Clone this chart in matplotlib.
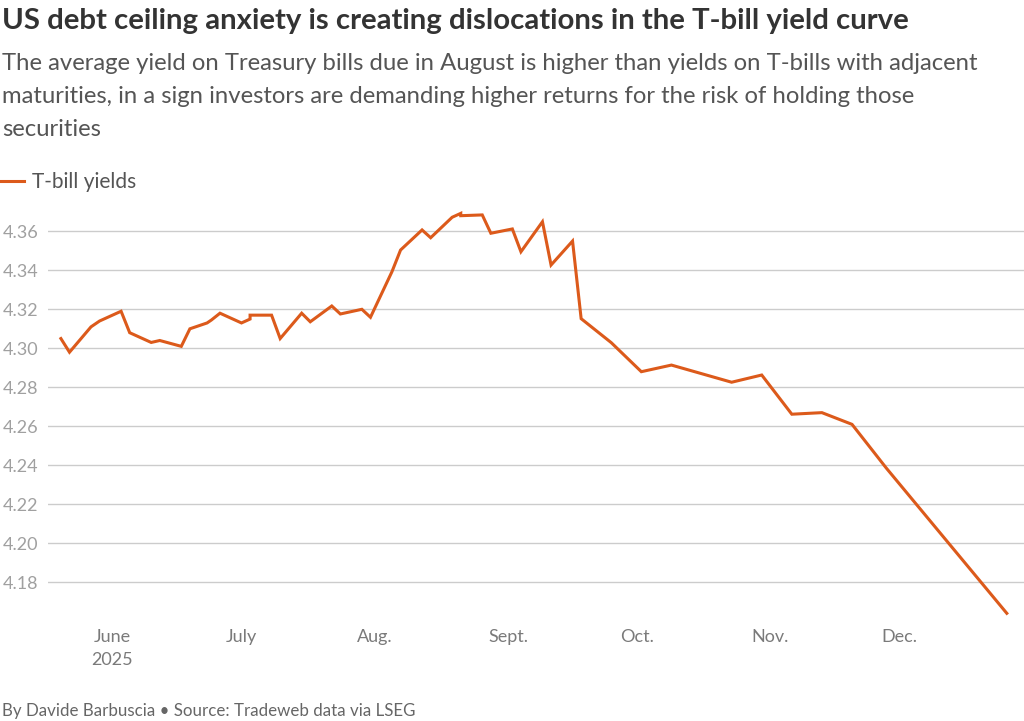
import matplotlib
matplotlib.use('Agg')
import matplotlib.pyplot as plt
import pandas as pd

# Данные (дата погашения T-bill, доходность)
dates = ['2025-05-20', '2025-05-22', '2025-05-27', '2025-05-29', '2025-06-03',
         '2025-06-05', '2025-06-10', '2025-06-12', '2025-06-17', '2025-06-19',
         '2025-06-23', '2025-06-24', '2025-06-26', '2025-07-01', '2025-07-03',
         '2025-07-03', '2025-07-08', '2025-07-10', '2025-07-15', '2025-07-17',
         '2025-07-22', '2025-07-24', '2025-07-29', '2025-07-31', '2025-08-05',
         '2025-08-07', '2025-08-12', '2025-08-14', '2025-08-19', '2025-08-21',
         '2025-08-21', '2025-08-26', '2025-08-28', '2025-09-02', '2025-09-04',
         '2025-09-09', '2025-09-11', '2025-09-16', '2025-09-18', '2025-09-25',
         '2025-10-02', '2025-10-09', '2025-10-23', '2025-10-30', '2025-11-06',
         '2025-11-13', '2025-11-20', '2025-11-28', '2025-12-26']
yields = [4.305, 4.298, 4.311, 4.314, 4.319,
          4.308, 4.303, 4.304, 4.301, 4.310,
          4.313, 4.3145, 4.318, 4.313, 4.315,
          4.317, 4.317, 4.305, 4.318, 4.3136,
          4.3217, 4.3176, 4.320, 4.3159, 4.3393,
          4.3504, 4.3607, 4.3567, 4.3672, 4.3692,
          4.368, 4.3684, 4.359, 4.3612, 4.3495,
          4.3649, 4.3427, 4.355, 4.3152, 4.3029,
          4.288, 4.2914, 4.2826, 4.2863, 4.2662,
          4.267, 4.261, 4.2385, 4.1641]
y_ticks = [4.18, 4.20, 4.22, 4.24, 4.26, 4.28, 4.30, 4.32, 4.34, 4.36]
x_ticks = ['2025-06-01', '2025-07-01', '2025-08-01', '2025-09-01',
           '2025-10-01', '2025-11-01', '2025-12-01']
x_labels = ['June\n2025', 'July', 'Aug.', 'Sept.', 'Oct.', 'Nov.', 'Dec.']

orange = '#DC5A1B'
font = 'Lato'

fig = plt.figure(figsize=(10.24, 7.21), dpi=100)
ax = fig.add_axes([48 / 1024, 1 - 617.4 / 721, 1 - 48 / 1024, (617.4 - 207.9) / 721])

x = pd.to_datetime(dates)
ax.plot(x, yields, color=orange, lw=2.2, label='T-bill yields', solid_joinstyle='miter')

ax.set_ylim(4.162, 4.372)
ax.set_xlim(pd.Timestamp('2025-05-17'), pd.Timestamp('2025-12-30'))
ax.set_yticks(y_ticks)
ax.set_yticklabels([f'{v:.2f}' for v in y_ticks])
ax.set_xticks(pd.to_datetime(x_ticks))
ax.set_xticklabels(x_labels)
ax.grid(axis='y', color='#cccccc', lw=1)
ax.set_axisbelow(True)
for s in ax.spines.values():
    s.set_visible(False)
ax.tick_params(axis='y', length=0, pad=7, labelsize=13, labelcolor='#a0a0a0')
ax.tick_params(axis='x', length=0, pad=8, labelsize=13, labelcolor='#7a7a7a')
for lbl in ax.get_xticklabels() + ax.get_yticklabels():
    lbl.set_family(font)
    lbl.set_linespacing(1.55)

# Заголовки
fig.text(0.002, 1 - 21 / 721, 'US debt ceiling anxiety is creating dislocations in the T-bill yield curve',
         fontsize=21.2, fontweight='bold', color='#333333', family=font, va='center')
subtitle = ('The average yield on Treasury bills due in August is higher than yields on T-bills with adjacent\n'
            'maturities, in a sign investors are demanding higher returns for the risk of holding those\n'
            'securities')
fig.text(0.002, 1 - 53 / 721, subtitle, fontsize=17.2, color='#555555',
         family=font, va='top', linespacing=1.7)

leg = ax.legend(loc='center left', bbox_to_anchor=(0, 1 - 182 / 721), bbox_transform=fig.transFigure,
                frameon=False, handlelength=1.15, handletextpad=0.4, borderpad=0, borderaxespad=0,
                prop={'family': font, 'size': 15})
for t in leg.get_texts():
    t.set_color('#555555')

fig.text(0.002, 1 - 711 / 721, 'By Davide Barbuscia \u2022 Source: Tradeweb data via LSEG',
         fontsize=12.2, color='#666666', family=font, va='center')

fig.savefig('out.png', dpi=100)
